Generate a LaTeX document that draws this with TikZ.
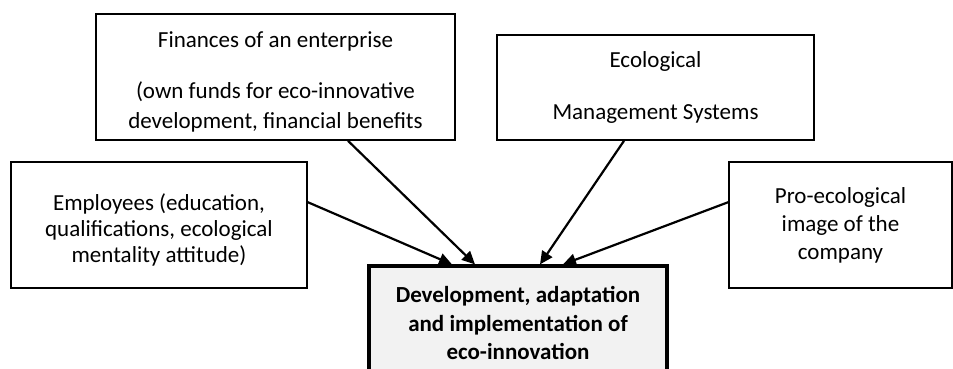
\documentclass[tikz,border=0pt]{standalone}
\usepackage{fontspec}
\setmainfont{Carlito}
\usetikzlibrary{arrows.meta}
\definecolor{ctrfill}{HTML}{F2F2F2}
\tikzset{
  box/.style={draw=black, line width=1.6pt, inner sep=0pt, align=center},
  mainbox/.style={draw=black, line width=3.2pt, fill=ctrfill, inner sep=0pt, align=center},
  arr/.style={line width=2.2pt, -{Triangle[length=13pt,width=12pt]}}
}
\begin{document}
\begin{tikzpicture}[x=1pt,y=-1pt]
\useasboundingbox (0,0) rectangle (953,369);
\clip (0,0) rectangle (953,369);
\node[box, minimum width=359pt, minimum height=126pt,
  font=\fontsize{23}{30}\selectfont] (fin) at (275.5,77)
  {\begin{tabular}{@{}c@{}}\\[-20pt]Finances of an enterprise\\[21pt](own funds for eco-innovative\\development, financial benefits\end{tabular}};
\node[box, minimum width=317pt, minimum height=105pt,
  font=\fontsize{23}{30}\selectfont] (eco) at (655.5,87.5)
  {Ecological\\[22pt]Management Systems};
\node[box, minimum width=296pt, minimum height=126pt,
  font=\fontsize{23}{26}\selectfont] (emp) at (159,225)
  {\begin{tabular}{@{}c@{}}\\[-13pt]Employees (education,\\qualifications, ecological\\mentality attitude)\end{tabular}};
\node[box, minimum width=223pt, minimum height=126pt,
  font=\fontsize{23}{28}\selectfont] (pro) at (840.5,225)
  {Pro-ecological\\image of the\\company};
\node[mainbox, minimum width=298pt, minimum height=114pt,
  font=\fontsize{23}{28.5}\selectfont\bfseries] (ctr) at (518,323)
  {Development, adaptation\\and implementation of\\eco-innovation};
\draw[arr] ([yshift=-41pt]emp.north east) -- ([xshift=-66pt]ctr.north);
\draw[arr] ([xshift=72.5pt]fin.south) -- ([xshift=-43pt]ctr.north);
\draw[arr] ([xshift=-31.5pt]eco.south) -- ([xshift=22pt]ctr.north);
\draw[arr] ([yshift=-41pt]pro.north west) -- ([xshift=45pt]ctr.north);
\end{tikzpicture}
\end{document}
